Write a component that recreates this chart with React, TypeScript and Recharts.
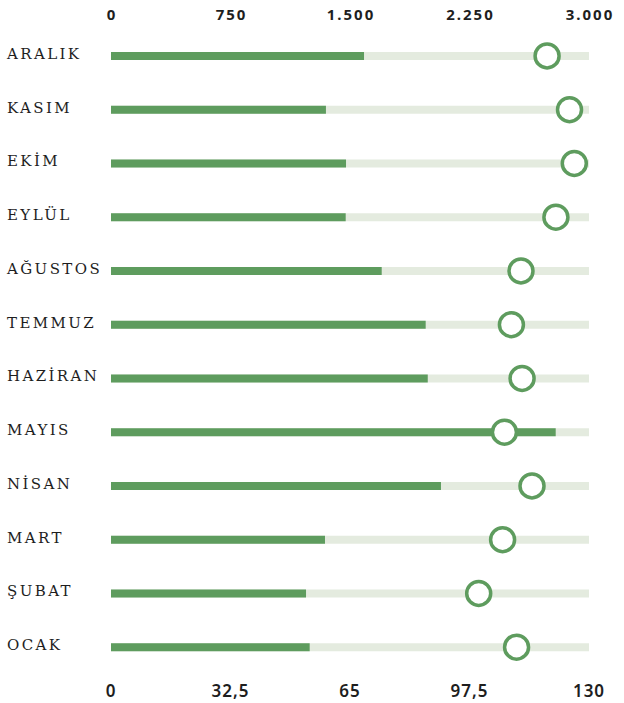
import React from 'react';
import { ComposedChart, Bar, Line, XAxis, YAxis } from 'recharts';

const months = ['ARALIK', 'KASIM', 'EKİM', 'EYLÜL', 'AĞUSTOS', 'TEMMUZ', 'HAZİRAN', 'MAYIS', 'NİSAN', 'MART', 'ŞUBAT', 'OCAK'];
const barValues = [1588, 1349, 1475, 1473, 1699, 1975, 1988, 2791, 2071, 1343, 1224, 1247];
const dotValues = [118.6, 124.7, 126.0, 121.0, 111.5, 108.9, 111.8, 107.0, 114.5, 106.5, 100.0, 110.3];
const topTicks = [0, 750, 1500, 2250, 3000];
const bottomTicks = [0, 32.5, 65, 97.5, 130];

const data = months.map((m, i) => ({ month: m, bar: barValues[i], dot: dotValues[i] }));

const GREEN = '#5e9c5e';
const LIGHT = '#e4ebdf';

function fmt(v: number): string {
  const [intPart, dec] = String(v).split('.');
  const withDots = intPart.replace(/\B(?=(\d{3})+(?!\d))/g, '.');
  return dec ? `${withDots},${dec}` : withDots;
}

const YTick = (props: any) => {
  const { y, payload } = props;
  return (
    <text
      x={7}
      y={y + 3}
      textAnchor="start"
      fill="#1e1e1e"
      style={{ fontFamily: '"DejaVu Serif", serif', fontSize: 15, letterSpacing: '2.4px' }}
    >
      {payload.value}
    </text>
  );
};

const TopTick = (props: any) => {
  const { x, payload } = props;
  return (
    <text
      x={x + 1}
      y={20}
      textAnchor="middle"
      fill="#1e1e1e"
      style={{ fontFamily: '"Noto Sans", sans-serif', fontSize: 15, fontWeight: 700, letterSpacing: '2px' }}
    >
      {fmt(payload.value)}
    </text>
  );
};

const BottomTick = (props: any) => {
  const { x, payload } = props;
  return (
    <text
      x={x}
      y={697}
      textAnchor="middle"
      fill="#1e1e1e"
      style={{ fontFamily: '"Noto Sans", sans-serif', fontSize: 17, fontWeight: 600, letterSpacing: '1px' }}
    >
      {fmt(payload.value)}
    </text>
  );
};

export default function App() {
  return (
    <div style={{ position: 'absolute', left: 0, top: 0, width: 624, height: 703, background: '#fff' }}>
      <ComposedChart
        width={624}
        height={703}
        data={data}
        layout="vertical"
        margin={{ top: 0, right: 35, bottom: 0, left: 0 }}
      >
        <XAxis
          xAxisId="top"
          orientation="top"
          type="number"
          domain={[0, 3000]}
          ticks={topTicks}
          height={29}
          axisLine={false}
          tickLine={false}
          tick={<TopTick />}
          interval={0}
        />
        <XAxis
          xAxisId="bottom"
          orientation="bottom"
          type="number"
          domain={[0, 130]}
          ticks={bottomTicks}
          height={29}
          axisLine={false}
          tickLine={false}
          tick={<BottomTick />}
          interval={0}
        />
        <YAxis
          type="category"
          dataKey="month"
          width={111}
          axisLine={false}
          tickLine={false}
          tick={<YTick />}
          interval={0}
        />
        <Bar
          dataKey="bar"
          xAxisId="top"
          barSize={8}
          fill={GREEN}
          background={{ fill: LIGHT }}
          isAnimationActive={false}
        />
        <Line
          dataKey="dot"
          xAxisId="bottom"
          stroke="none"
          strokeWidth={0}
          dot={{ r: 12, fill: '#ffffff', stroke: GREEN, strokeWidth: 3.5 }}
          activeDot={false}
          isAnimationActive={false}
        />
      </ComposedChart>
    </div>
  );
}
